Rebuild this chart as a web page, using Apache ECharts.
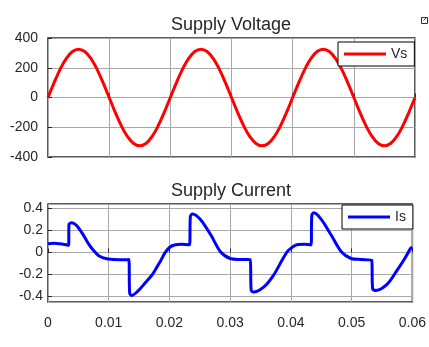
<!DOCTYPE html>
<html>
<head>
<meta charset="utf-8">
<script src="https://cdn.jsdelivr.net/npm/echarts@6/dist/echarts.min.js"></script>
<style>
  html, body { margin: 0; padding: 0; background: #fff; }
  #chart { width: 429px; height: 347px; }
</style>
</head>
<body>
<div id="chart"></div>
<script>
// supply voltage, sampled every 1 ms
var vsTime = [0, 0.001, 0.002, 0.003, 0.004, 0.005, 0.006, 0.007, 0.008, 0.009,
  0.01, 0.011, 0.012, 0.013, 0.014, 0.015, 0.016, 0.017, 0.018, 0.019,
  0.02, 0.021, 0.022, 0.023, 0.024, 0.025, 0.026, 0.027, 0.028, 0.029,
  0.03, 0.031, 0.032, 0.033, 0.034, 0.035, 0.036, 0.037, 0.038, 0.039,
  0.04, 0.041, 0.042, 0.043, 0.044, 0.045, 0.046, 0.047, 0.048, 0.049,
  0.05, 0.051, 0.052, 0.053, 0.054, 0.055, 0.056, 0.057, 0.058, 0.059, 0.06];
var vsValue = [0, 100, 191, 263, 309, 325, 309, 263, 191, 100,
  0, -100, -191, -263, -309, -325, -309, -263, -191, -100,
  0, 100, 191, 263, 309, 325, 309, 263, 191, 100,
  0, -100, -191, -263, -309, -325, -309, -263, -191, -100,
  0, 100, 191, 263, 309, 325, 309, 263, 191, 100,
  0, -100, -191, -263, -309, -325, -309, -263, -191, -100, 0];

// supply current (jumps at each firing instant)
var isTime = [0, 0.001, 0.002, 0.003, 0.0034, 0.00345, 0.0039, 0.0047, 0.0058, 0.0066,
  0.0074, 0.0085, 0.0099, 0.0118, 0.0133, 0.01345, 0.0138, 0.015, 0.0161, 0.0172,
  0.0186, 0.0193, 0.02, 0.0208, 0.022, 0.0233, 0.02345, 0.0238, 0.0251, 0.0268,
  0.0284, 0.03, 0.0317, 0.0333, 0.03345, 0.0338, 0.0355, 0.0371, 0.0387, 0.0396,
  0.0412, 0.0424, 0.0433, 0.04345, 0.0438, 0.045, 0.0466, 0.0483, 0.0499, 0.0515,
  0.0533, 0.05345, 0.054, 0.0559, 0.0575, 0.0588, 0.0597, 0.06];
var isValue = [0.08, 0.083, 0.078, 0.07, 0.065, 0.255, 0.27, 0.245, 0.16, 0.085,
  0.025, -0.035, -0.06, -0.067, -0.065, -0.37, -0.39, -0.34, -0.27, -0.2,
  -0.07, 0.0, 0.045, 0.067, 0.075, 0.07, 0.33, 0.35, 0.3, 0.16,
  0.006, -0.055, -0.064, -0.066, -0.34, -0.36, -0.315, -0.21, -0.055, 0.02,
  0.073, 0.075, 0.068, 0.34, 0.36, 0.3, 0.16, 0.006, -0.055, -0.064,
  -0.07, -0.33, -0.345, -0.285, -0.16, -0.05, 0.037, 0.05];

var titles = ['Supply Voltage', 'Supply Current'];
var seriesNames = ['Vs', 'Is'];

function pairs(xs, ys) {
  return xs.map(function (x, i) { return [x, ys[i]]; });
}

var font = "'Liberation Sans', Arial, sans-serif";
var ink = '#262626';
var gridGray = '#a8a8a8';

function xAxisFor(idx, showLabels) {
  return {
    type: 'value', gridIndex: idx, min: 0, max: 0.06, interval: 0.01,
    axisLine: { show: false },
    axisTick: { show: true, inside: true, length: 4, lineStyle: { color: ink } },
    axisLabel: { show: showLabels, margin: 14, color: ink, fontSize: 14, fontFamily: font },
    splitLine: { show: true, lineStyle: { color: gridGray, width: 1 } }
  };
}

// plain line marker, no symbol
var legendBase = {
  orient: 'horizontal',
  icon: 'path://M0,0H42V3H0Z',
  symbolKeepAspect: true,
  itemWidth: 42,
  itemHeight: 14,
  padding: [5, 7, 5, 6],
  borderColor: '#000',
  borderWidth: 1,
  backgroundColor: '#fff',
  textStyle: { color: ink, fontSize: 14, fontFamily: font }
};

var chart = echarts.init(document.getElementById('chart'), null, { renderer: 'canvas' });
var option = {
  animation: false,
  backgroundColor: '#fff',
  title: [{
    text: titles[0], left: 231, top: 16, textAlign: 'center', padding: 0,
    textStyle: { color: ink, fontSize: 18, fontWeight: 'normal', fontFamily: font }
  }, {
    text: titles[1], left: 231, top: 182, textAlign: 'center', padding: 0,
    textStyle: { color: ink, fontSize: 18, fontWeight: 'normal', fontFamily: font }
  }],
  legend: [
    Object.assign({}, legendBase, { data: [seriesNames[0]], left: 338, top: 42 }),
    Object.assign({}, legendBase, { data: [seriesNames[1]], left: 342, top: 205 })
  ],
  grid: [{
    left: 48, top: 38, width: 367, height: 119,
    show: true, borderColor: ink, borderWidth: 1.5, backgroundColor: '#fff'
  }, {
    left: 48, top: 204, width: 367, height: 98,
    show: true, borderColor: ink, borderWidth: 1.5, backgroundColor: '#fff'
  }],
  xAxis: [xAxisFor(0, false), xAxisFor(1, true)],
  yAxis: [{
    type: 'value', gridIndex: 0, min: -400, max: 400, interval: 200,
    axisLine: { show: false },
    axisTick: { show: true, inside: true, length: 4, lineStyle: { color: ink } },
    axisLabel: { margin: 10, color: ink, fontSize: 14, fontFamily: font },
    splitLine: { show: true, lineStyle: { color: gridGray, width: 1 } }
  }, {
    type: 'value', gridIndex: 1, min: -0.45, max: 0.44, splitNumber: 5,
    axisLine: { show: false },
    axisTick: { show: true, inside: true, length: 4, lineStyle: { color: ink } },
    axisLabel: { margin: 5, color: ink, fontSize: 14, fontFamily: font,
      showMinLabel: false, showMaxLabel: false },
    splitLine: { show: true, lineStyle: { color: gridGray, width: 1 } }
  }],
  series: [{
    name: seriesNames[0], type: 'line', xAxisIndex: 0, yAxisIndex: 0,
    data: pairs(vsTime, vsValue), smooth: 0.4, symbol: 'none', showSymbol: false,
    color: '#ff0000', lineStyle: { color: '#ff0000', width: 3 }, z: 3
  }, {
    name: seriesNames[1], type: 'line', xAxisIndex: 1, yAxisIndex: 1,
    data: pairs(isTime, isValue), smooth: 0.3, symbol: 'none', showSymbol: false,
    color: '#0000ff', lineStyle: { color: '#0000ff', width: 3 }, z: 3
  }],
  graphic: [{
    type: 'rect', left: 419, top: 15,
    shape: { x: 0, y: 0, width: 6, height: 6 },
    style: { fill: 'none', stroke: '#333', lineWidth: 1 }
  }, {
    type: 'line', left: 421, top: 15,
    shape: { x1: 0, y1: 3, x2: 3, y2: 0 },
    style: { stroke: '#333', lineWidth: 1 }
  }]
};
chart.setOption(option);
</script>
</body>
</html>
